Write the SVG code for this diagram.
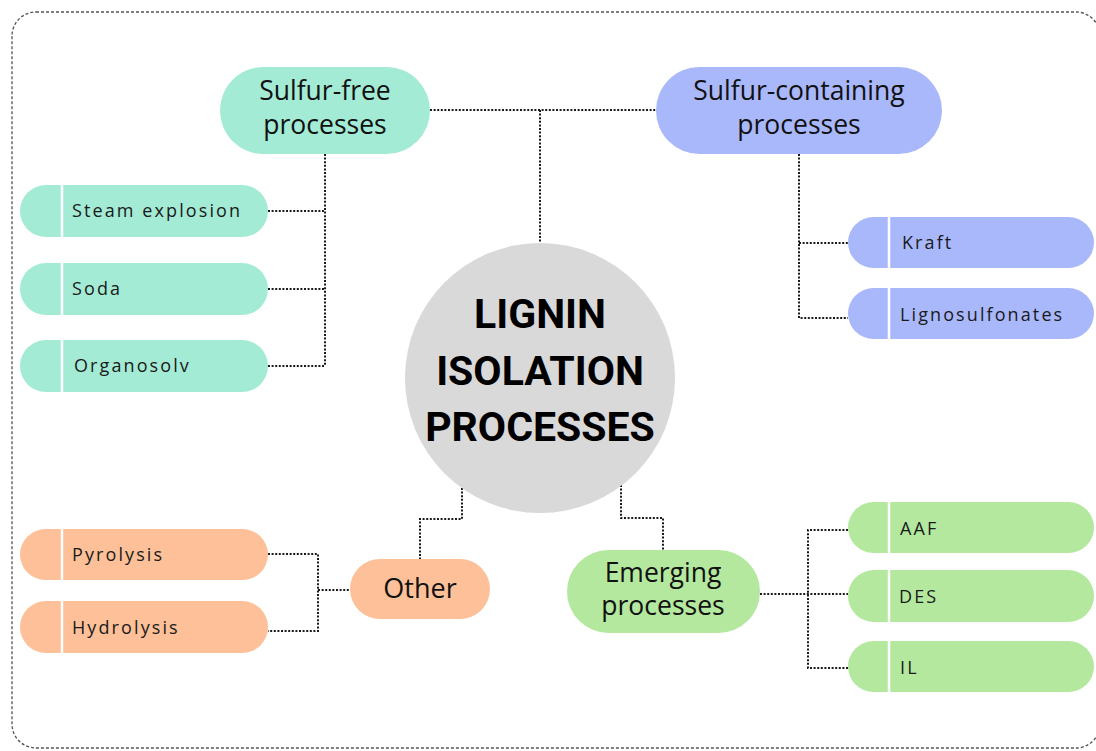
<svg xmlns="http://www.w3.org/2000/svg" width="1096" height="751" viewBox="0 0 1096 751">
<style>
.conn{fill:none;stroke:#1a1a1a;stroke-width:2;stroke-dasharray:2 1.6}
.main{font-family:"Open Sans","Liberation Sans",sans-serif;font-size:26.5px;fill:#111;text-anchor:middle}
.sub{font-family:"Open Sans","Liberation Sans",sans-serif;font-size:18px;font-weight:500;fill:#1a1a1a;letter-spacing:2.1px}
.div{stroke:#fff;stroke-width:2.5}
.teal{fill:#a3ebd5}
.blue{fill:#a9b8fb}
.orange{fill:#fdc098}
.green{fill:#b3e89e}
.center{font-family:Roboto,"Liberation Sans",sans-serif;font-weight:bold;font-size:41px;fill:#000;text-anchor:middle}
</style>
<rect x="0" y="0" width="1096" height="751" fill="#fff"/>
<rect x="12" y="12" width="1088" height="736" rx="24" fill="none" stroke="#555" stroke-width="1.3" stroke-dasharray="3 2"/>
<g id="connectors">
<path class="conn" d="M430 110H656M540 110V243"/>
<path class="conn" d="M325 154V366M268 211H325M268 289H325M268 366H325"/>
<path class="conn" d="M799 154V318H848M799 243H848"/>
<path class="conn" d="M462 488V519H420V559"/>
<path class="conn" d="M268 554H318V631H268M318 590H350"/>
<path class="conn" d="M621 485V518H663V550"/>
<path class="conn" d="M760 594H848M848 530H808V668H848"/>
</g>
<g id="center">
<circle cx="540" cy="378" r="135" fill="#d9d9d9"/>
<text class="center" x="540" y="328">LIGNIN</text>
<text class="center" x="540" y="385">ISOLATION</text>
<text class="center" x="540" y="441">PROCESSES</text>
</g>
<g id="sulfur-free">
<rect class="teal" x="220" y="67" width="210" height="87" rx="43.5"/>
<text class="main" x="325" y="100">Sulfur-free</text>
<text class="main" x="325" y="134">processes</text>
</g>
<g id="sulfur-containing">
<rect class="blue" x="656" y="67" width="286" height="87" rx="43.5"/>
<text class="main" x="799" y="100">Sulfur-containing</text>
<text class="main" x="799" y="134">processes</text>
</g>
<g id="other">
<rect class="orange" x="350" y="559" width="140" height="60" rx="30"/>
<text class="main" x="420" y="598" style="font-size:27px">Other</text>
</g>
<g id="emerging">
<rect class="green" x="567" y="550" width="193" height="83" rx="41.5"/>
<text class="main" x="663" y="582">Emerging</text>
<text class="main" x="663" y="615">processes</text>
</g>
<g id="steam-explosion">
<rect class="teal" x="20" y="185" width="248" height="52" rx="26"/>
<line class="div" x1="62" y1="185" x2="62" y2="237"/>
<text class="sub" x="72" y="217">Steam explosion</text>
</g>
<g id="soda">
<rect class="teal" x="20" y="263" width="248" height="52" rx="26"/>
<line class="div" x1="62" y1="263" x2="62" y2="315"/>
<text class="sub" x="72" y="295">Soda</text>
</g>
<g id="organosolv">
<rect class="teal" x="20" y="340" width="248" height="52" rx="26"/>
<line class="div" x1="62" y1="340" x2="62" y2="392"/>
<text class="sub" x="74" y="372">Organosolv</text>
</g>
<g id="kraft">
<rect class="blue" x="848" y="217" width="246" height="51" rx="25.5"/>
<line class="div" x1="889" y1="217" x2="889" y2="268"/>
<text class="sub" x="902" y="249">Kraft</text>
</g>
<g id="lignosulfonates">
<rect class="blue" x="848" y="288" width="246" height="51" rx="25.5"/>
<line class="div" x1="889" y1="288" x2="889" y2="339"/>
<text class="sub" x="900" y="321">Lignosulfonates</text>
</g>
<g id="pyrolysis">
<rect class="orange" x="20" y="529" width="248" height="51" rx="25.5"/>
<line class="div" x1="62" y1="529" x2="62" y2="580"/>
<text class="sub" x="72" y="561">Pyrolysis</text>
</g>
<g id="hydrolysis">
<rect class="orange" x="20" y="601" width="248" height="52" rx="26"/>
<line class="div" x1="62" y1="601" x2="62" y2="653"/>
<text class="sub" x="72" y="634">Hydrolysis</text>
</g>
<g id="aaf">
<rect class="green" x="848" y="502" width="246" height="51" rx="25.5"/>
<line class="div" x1="889" y1="502" x2="889" y2="553"/>
<text class="sub" x="900" y="535">AAF</text>
</g>
<g id="des">
<rect class="green" x="848" y="570" width="246" height="52" rx="26"/>
<line class="div" x1="889" y1="570" x2="889" y2="622"/>
<text class="sub" x="899" y="603">DES</text>
</g>
<g id="il">
<rect class="green" x="848" y="641" width="246" height="51" rx="25.5"/>
<line class="div" x1="889" y1="641" x2="889" y2="692"/>
<text class="sub" x="900" y="674">IL</text>
</g>
</svg>
